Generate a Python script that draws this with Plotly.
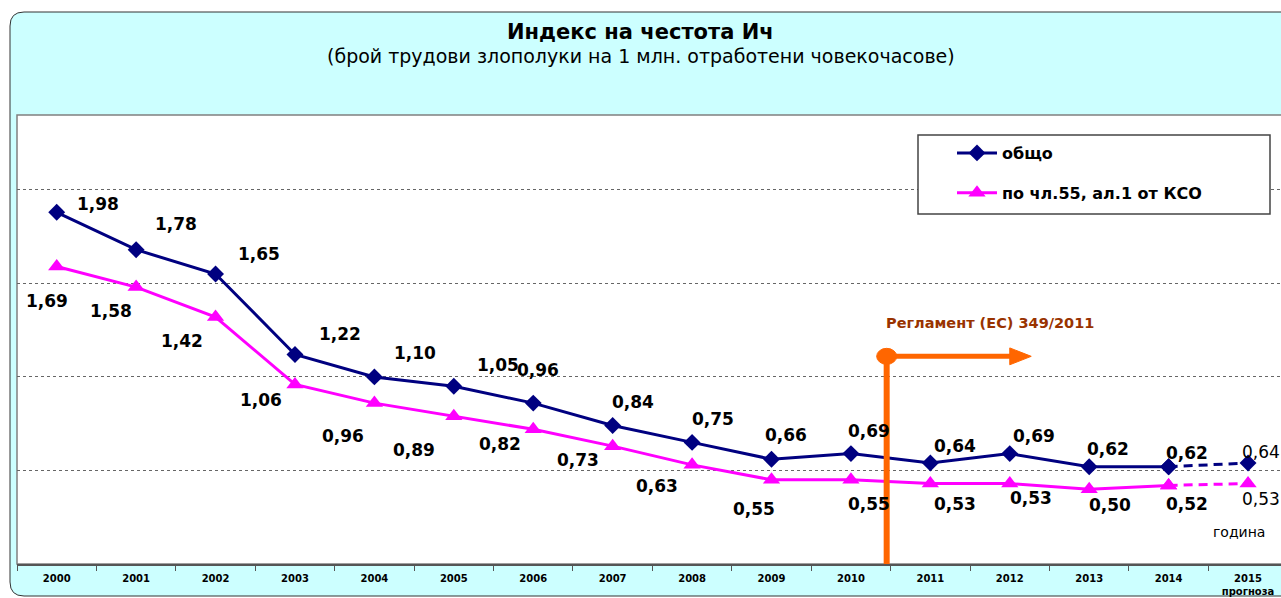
import plotly.graph_objects as go

# data
years = [str(y) for y in range(2000, 2016)]
tick_labels = years[:-1] + ["2015<br>прогноза"]
total = [1.98, 1.78, 1.65, 1.22, 1.10, 1.05, 0.96, 0.84, 0.75, 0.66, 0.69, 0.64, 0.69, 0.62, 0.62, 0.64]
kso = [1.69, 1.58, 1.42, 1.06, 0.96, 0.89, 0.82, 0.73, 0.63, 0.55, 0.55, 0.53, 0.53, 0.50, 0.52, 0.53]
names = ["общо", "по чл.55, ал.1 от КСО"]

# label offsets in px (dx, dy down)
total_off = [(41, -8), (40, -26), (43, -20), (45, -20), (41, -24), (44, -21), (5, -33), (20, -24),
             (21, -23), (14, -24), (18, -23), (25, -17), (24, -18), (19, -18), (18, -14), (13, -11)]
kso_off = [(-10, 34), (-25, 24), (-34, 24), (-34, 16), (-31, 33), (-40, 34), (-33, 15), (-35, 14),
           (-35, 21), (-18, 29), (18, 24), (25, 20), (21, 14), (21, 16), (18, 19), (13, 15)]

W, H = 1281, 598
L, T, R, B = 17, 115, 0, 34
PW, PH = W - L - R, H - T - B
FONT = "DejaVu Sans"
NAVY = "#000080"
MAGENTA = "#FF00FF"
ORANGE = "#FF6600"


def px(x):
    return (x - L) / PW


def py(y):
    return (T + PH - y) / PH


def fmt(v):
    return f"{v:.2f}".replace(".", ",")


fig = go.Figure()

n = len(years) - 1  # last point is forecast
for vals, color, sym, msize, name, grp in [(total, NAVY, "diamond", 13, names[0], "a"),
                                            (kso, MAGENTA, "triangle-up", 15, names[1], "b")]:
    fig.add_trace(go.Scatter(
        x=years[:n], y=vals[:n], mode="lines+markers", name=f"<b>{name}</b>", legendgroup=grp,
        line=dict(color=color, width=3),
        marker=dict(symbol=sym, size=msize, color=color),
    ))
    fig.add_trace(go.Scatter(
        x=years[n - 1:], y=vals[n - 1:], mode="lines+markers", showlegend=False, legendgroup=grp,
        line=dict(color=color, width=3, dash="9px,6px"),
        marker=dict(symbol=sym, size=msize, color=color),
    ))

annotations = []
for vals, offs in [(total, total_off), (kso, kso_off)]:
    for i, v in enumerate(vals):
        dx, dy = offs[i]
        txt = fmt(v) if i == n else f"<b>{fmt(v)}</b>"
        annotations.append(dict(x=i, y=v, text=txt, showarrow=False, xshift=dx, yshift=-dy,
                                xanchor="center", yanchor="middle",
                                font=dict(family=FONT, size=17, color="black")))


def paper_text(x, y, text, size):
    return dict(xref="paper", yref="paper", x=px(x), y=py(y), text=text, showarrow=False,
                xanchor="center", yanchor="middle", font=dict(family=FONT, size=size, color="black"))


annotations += [
    paper_text(640, 32, "<b>Индекс на честота Ич</b>", 21),
    paper_text(641, 56, "(брой трудови злополуки на 1 млн. отработени човекочасове)", 19),
    paper_text(1239, 532, "година", 14),
    dict(x=11.75, y=1.386, text="<b>Регламент (ЕС) 349/2011</b>", showarrow=False,
         xanchor="center", yanchor="middle", font=dict(family=FONT, size=14.5, color="#993300")),
]

# rounded outer frame
x0, y0, x1, y1, r = 10, 12, 1300, 596, 14
frame = (f"M {px(x0)},{py(y0 + r)} Q {px(x0)},{py(y0)} {px(x0 + r)},{py(y0)} "
         f"L {px(x1 - r)},{py(y0)} Q {px(x1)},{py(y0)} {px(x1)},{py(y0 + r)} "
         f"L {px(x1)},{py(y1 - r)} Q {px(x1)},{py(y1)} {px(x1 - r)},{py(y1)} "
         f"L {px(x0 + r)},{py(y1)} Q {px(x0)},{py(y1)} {px(x0)},{py(y1 - r)} Z")

shapes = [
    dict(type="path", xref="paper", yref="paper", path=frame, fillcolor="#CCFFFF",
         line=dict(color="#333333", width=1), layer="below"),
    dict(type="rect", xref="paper", yref="paper", x0=0, x1=1.01, y0=0, y1=1,
         fillcolor="white", line=dict(color="#808080", width=1.5), layer="below"),
    dict(type="rect", xref="paper", yref="paper", x0=px(918), x1=px(1270), y0=py(214), y1=py(135),
         fillcolor="white", line=dict(color="#444444", width=1.5), layer="above"),
    # regulation marker
    dict(type="line", x0=10.45, x1=10.45, y0=0.1, y1=1.21, line=dict(color=ORANGE, width=6), layer="above"),
    dict(type="line", x0=10.45, x1=12.02, y0=1.21, y1=1.21, line=dict(color=ORANGE, width=5), layer="above"),
    dict(type="path", path="M 12.0,1.255 L 12.27,1.21 L 12.0,1.165 Z", fillcolor=ORANGE,
         line=dict(color=ORANGE, width=1), layer="above"),
    dict(type="circle", xsizemode="pixel", ysizemode="pixel", xanchor=10.45, yanchor=1.21,
         x0=-10, x1=10, y0=-8, y1=8, fillcolor=ORANGE, line=dict(color=ORANGE, width=1), layer="above"),
]

fig.update_layout(
    width=W, height=H,
    margin=dict(l=L, r=R, t=T, b=B, autoexpand=False),
    paper_bgcolor="white", plot_bgcolor="rgba(0,0,0,0)",
    font=dict(family=FONT, color="black"),
    showlegend=True,
    legend=dict(x=px(952), y=py(136), xanchor="left", yanchor="top",
                bgcolor="rgba(0,0,0,0)", borderwidth=0, tracegroupgap=16,
                font=dict(family=FONT, size=16, color="black"), itemwidth=40),
    annotations=annotations,
    shapes=shapes,
)
fig.update_xaxes(
    type="category", range=[-0.5, 15.415], tickson="boundaries",
    tickvals=years, ticktext=[f"<b>{t}</b>" for t in tick_labels],
    tickfont=dict(family=FONT, size=10, color="black"), ticklabelstandoff=4,
    ticks="outside", ticklen=5, tickcolor="#555555",
    showline=True, linecolor="#555555", linewidth=2, showgrid=False,
)
fig.update_yaxes(
    range=[0.1, 2.5], tickvals=[0.6, 1.1, 1.6, 2.1], showticklabels=False,
    showgrid=True, gridcolor="#666666", griddash="dot", gridwidth=1,
    zeroline=False, showline=False, ticks="",
)

fig.write_html("out.html", config={"displayModeBar": False},
               post_script="document.body.style.margin='0';")
